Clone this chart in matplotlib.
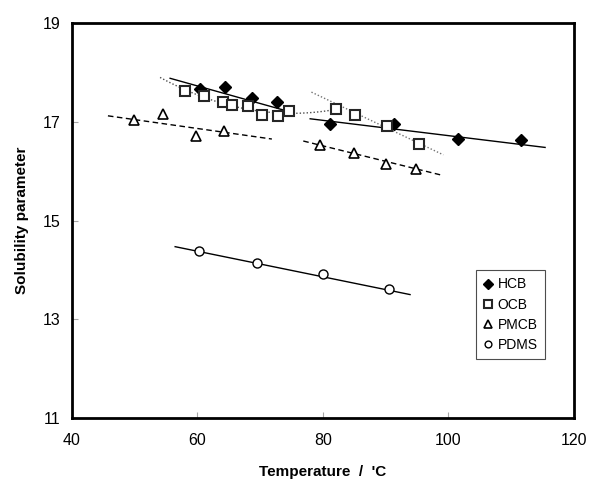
import numpy as np
import matplotlib.pyplot as plt

plt.rcParams['font.family'] = ['Liberation Sans', 'DejaVu Sans']

# data
hcb_x = [60.4, 64.5, 68.7, 72.7, 81.2, 91.4, 101.6, 111.5]
hcb_y = [17.66, 17.70, 17.48, 17.40, 16.95, 16.96, 16.65, 16.63]
ocb_x = [58.0, 61.1, 64.1, 65.6, 68.1, 70.4, 72.9, 74.7, 82.1, 85.1, 90.3, 95.4]
ocb_y = [17.62, 17.52, 17.39, 17.33, 17.31, 17.14, 17.12, 17.21, 17.26, 17.13, 16.91, 16.55]
pmcb_x = [50.0, 54.6, 59.8, 64.3, 79.5, 85.0, 90.0, 94.9]
pmcb_y = [17.04, 17.16, 16.72, 16.81, 16.53, 16.36, 16.14, 16.05]
pdms_x = [60.3, 69.5, 80.0, 90.5]
pdms_y = [14.38, 14.14, 13.92, 13.62]

# trend lines (end points)
hcb_fit1 = ([55.7, 74.8], [17.88, 17.20])
hcb_fit2 = ([78.0, 115.4], [17.06, 16.48])
ocb_fit2 = ([78.2, 99.2], [17.60, 16.33])
pmcb_fit1 = ([45.8, 71.9], [17.12, 16.65])
pmcb_fit2 = ([76.9, 99.2], [16.61, 15.91])
pdms_fit = ([56.5, 93.9], [14.47, 13.50])

fig = plt.figure(figsize=(5.89, 4.79), dpi=100)
ax = fig.add_axes([0.1214, 0.1273, 0.8531, 0.8247])

# lines
ax.plot(*hcb_fit1, color='black', lw=1)
ax.plot(*hcb_fit2, color='black', lw=1)
c = np.polyfit(ocb_x[:9], ocb_y[:9], 2)
xs = np.linspace(54.1, 81.8, 60)
ax.plot(xs, np.polyval(c, xs), color='0.3', lw=1, ls=(0, (1, 1.5)))
ax.plot(*ocb_fit2, color='0.45', lw=1, ls=(0, (1, 1.5)))
ax.plot(*pmcb_fit1, color='black', lw=1, ls=(0, (4, 2.5)))
ax.plot(*pmcb_fit2, color='black', lw=1, ls=(0, (4, 2.5)))
ax.plot(*pdms_fit, color='black', lw=1)

# markers
ax.plot(hcb_x, hcb_y, 'D', ms=6.5, color='black', ls='none', label='HCB')
ax.plot(ocb_x, ocb_y, 's', ms=7, mfc='white', mec='0.15', mew=1.5, ls='none', label='OCB')
ax.plot(pmcb_x, pmcb_y, '^', ms=7.5, mfc='white', mec='black', mew=1.2, ls='none', label='PMCB')
ax.plot(pdms_x, pdms_y, 'o', ms=6.5, mfc='white', mec='black', mew=1.0, ls='none', label='PDMS')

ax.set_xlim(40, 120)
ax.set_ylim(11, 19)
ax.set_xticks([40, 60, 80, 100, 120])
ax.set_yticks([11, 13, 15, 17, 19])
ax.tick_params(direction='in', color='0.65', length=4, width=0.8, labelsize=11.5, pad=11)
ax.tick_params(axis='y', pad=8)
for s in ax.spines.values():
    s.set_linewidth(2)

ax.set_xlabel('Temperature  /  \'C', fontsize=11, fontweight='bold', labelpad=12)
ax.set_ylabel('Solubility parameter', fontsize=11, fontweight='bold', labelpad=10)

leg = ax.legend(loc='lower right', bbox_to_anchor=(0.9556, 0.1316), fontsize=10,
                fancybox=False, edgecolor='0.3', framealpha=1, handlelength=0.8,
                handletextpad=0.3, labelspacing=0.45, borderpad=0.5, markerscale=0.75)
leg.get_frame().set_linewidth(0.8)

fig.savefig('out.png', dpi=100)
